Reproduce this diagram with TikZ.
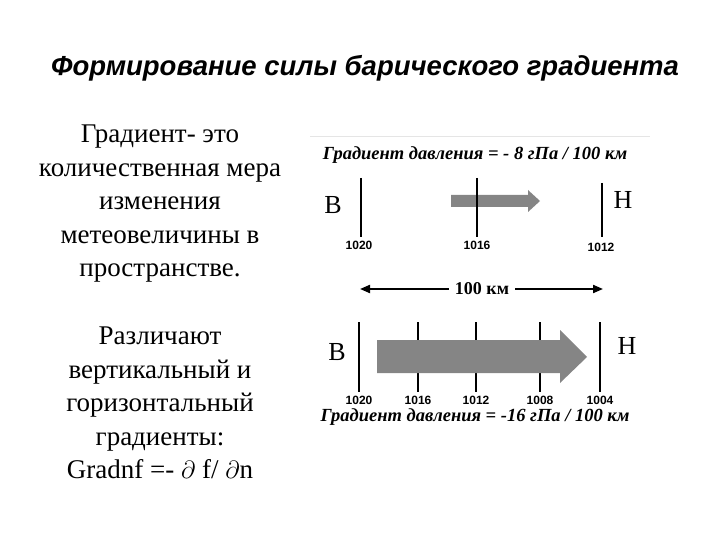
\documentclass[tikz,border=0pt]{standalone}
\usepackage{fontspec}
\setmainfont{Liberation Serif}
\newfontfamily\arialfont{Liberation Sans}
\usetikzlibrary{arrows.meta}
\begin{document}
\begin{tikzpicture}[x=1pt,y=-1pt,
  title/.style={font=\arialfont\bfseries\itshape\fontsize{27.5}{30}\selectfont, inner sep=0pt},
  body/.style={font=\fontsize{27}{33.4}\selectfont, align=center, inner sep=0pt},
  grad/.style={font=\bfseries\itshape\fontsize{18.5}{20}\selectfont, inner sep=0pt},
  tick/.style={line width=2pt, black},
  ticklab/.style={font=\arialfont\bfseries\fontsize{12}{13}\selectfont, inner sep=0pt},
  pole/.style={font=\fontsize{26}{28}\selectfont, inner sep=0pt},
  garrow/.style={fill=black!48, draw=none}
]
\useasboundingbox (0,0) rectangle (720,540);
% title
\node[title] (T) at (365,68) {Формирование силы барического градиента};
% left text
\node[body, anchor=north] (txt1) at (160,125) {Градиент- это\\количественная мера\\изменения\\метеовеличины в\\пространстве.};
\node[body, anchor=north] (txt2) at (160,327) {Различают\\вертикальный и\\горизонтальный\\градиенты:\\Gradnf =- $\partial$ f/ $\partial$n};
% faint frame line
\draw[black!10, line width=1pt] (310,137) -- (650,137);
% top panel
\node[grad] (g1) at (475,155) {Градиент давления = - 8 гПа / 100 км};
\fill[garrow] (451,195) -- (528,195) -- (528,190) -- (540,201) -- (528,212) -- (528,207) -- (451,207) -- cycle;
\coordinate (a1t) at (361,178); \coordinate (a1b) at (361,237);
\coordinate (a2t) at (477,178); \coordinate (a2b) at (477,237);
\coordinate (a3t) at (602,183); \coordinate (a3b) at (602,237);
\draw[tick] (a1t) -- (a1b);
\draw[tick] (a2t) -- (a2b);
\draw[tick] (a3t) -- (a3b);
\node[ticklab] (l1) at (359,245) {1020};
\node[ticklab] (l2) at (477,245) {1016};
\node[ticklab] (l3) at (601,247) {1012};
\node[pole] (B1) at (333,205) {В};
\node[pole] (H1) at (623,200) {Н};
% distance arrow
\coordinate (dL) at (360,289);
\coordinate (dR) at (603,289);
\draw[line width=2pt, {Triangle[length=10pt,width=8pt]}-{Triangle[length=10pt,width=8pt]}] (dL) -- (dR);
\node[fill=white, inner xsep=6pt, inner ysep=1pt, font=\bfseries\fontsize{18}{19}\selectfont] (km) at (482,289) {100 км};
% bottom panel
\coordinate (b1t) at (359,322); \coordinate (b1b) at (359,392);
\coordinate (b2t) at (418,322); \coordinate (b2b) at (418,392);
\coordinate (b3t) at (476,322); \coordinate (b3b) at (476,392);
\coordinate (b4t) at (540,322); \coordinate (b4b) at (540,392);
\coordinate (b5t) at (600,322); \coordinate (b5b) at (600,392);
\draw[tick] (b1t) -- (b1b);
\draw[tick] (b2t) -- (b2b);
\draw[tick] (b3t) -- (b3b);
\draw[tick] (b4t) -- (b4b);
\draw[tick] (b5t) -- (b5b);
\fill[garrow] (377,340) -- (560,340) -- (560,330) -- (587,357) -- (560,383) -- (560,373) -- (377,373) -- cycle;
\node[ticklab] (m1) at (359,400) {1020};
\node[ticklab] (m2) at (418,400) {1016};
\node[ticklab] (m3) at (476,400) {1012};
\node[ticklab] (m4) at (540,400) {1008};
\node[ticklab] (m5) at (600,400) {1004};
\node[pole] (B2) at (337,352) {В};
\node[pole] (H2) at (627,346) {Н};
\node[grad] (g2) at (475,417) {Градиент давления = -16 гПа / 100 км};
\end{tikzpicture}
\end{document}
